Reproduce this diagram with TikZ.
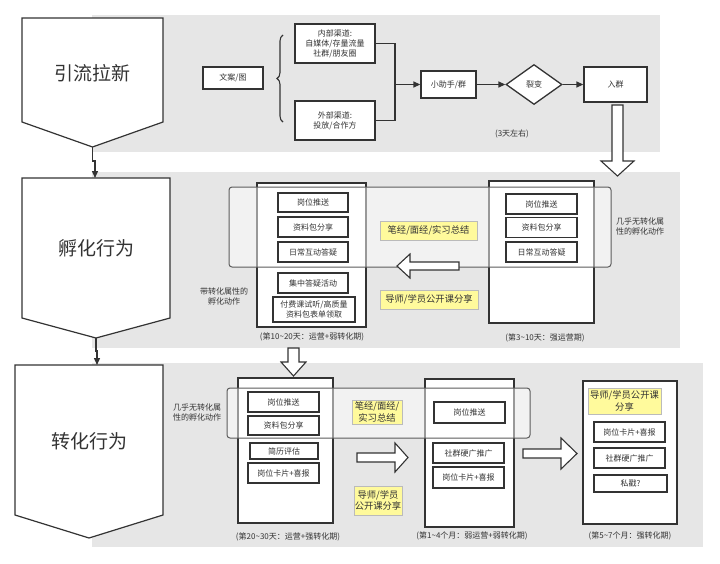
\documentclass[tikz,border=0pt]{standalone}
\usepackage{fontspec}
\newfontfamily\cjk{Noto Sans CJK SC}
\usetikzlibrary{arrows.meta,shapes.geometric,decorations.pathreplacing}
\definecolor{band}{HTML}{E6E6E6}
\definecolor{ink}{HTML}{333333}
\definecolor{note}{HTML}{FFFA9C}
\definecolor{noteline}{HTML}{BBBBBB}
\begin{document}
\begin{tikzpicture}[x=1pt,y=-1pt,
  every node/.style={text=ink},
  sm/.style={font=\cjk\fontsize{8}{10}\selectfont},
  lbl/.style={sm, align=center, inner sep=0pt},
  box/.style={draw=ink, line width=1.3pt, fill=white, inner sep=0pt, align=center, sm},
  yel/.style={draw=noteline, line width=0.8pt, fill=note, inner sep=0pt, align=center, font=\cjk\fontsize{9.3}{11.5}\selectfont},
  col/.style={draw=ink, line width=1.3pt, fill=white},
  over/.style={draw=ink!80, line width=1pt, fill=white, fill opacity=0.5, rounded corners=3pt},
  pent/.style={draw=ink, line width=1.2pt, fill=white, line join=miter},
  big/.style={font=\cjk\fontsize{19}{22}\selectfont, inner sep=0pt},
  arr/.style={draw=ink, line width=1.3pt, -{Triangle[length=7pt,width=6pt]}},
  hollow/.style={draw=ink, line width=1.1pt, fill=white, line join=miter}]
\useasboundingbox (0,0) rectangle (720,563);
\fill[white] (0,0) rectangle (720,563);
% bands
\fill[band] (92,15) rectangle (660,152);
\fill[band] (92,172) rectangle (680,348);
\fill[band] (92,363) rectangle (703,547);

% pentagons
\draw[pent] (22,18) -- (163,18) -- (163,122) -- (92.5,147) -- (22,122) -- cycle;
\coordinate (p1tip) at (92.5,147);
\node[big] (t1) at (92.5,73) {引流拉新};
\draw[pent] (22,178) -- (170,178) -- (170,318) -- (96,338) -- (22,318) -- cycle;
\coordinate (p2top) at (95,178);
\coordinate (p2tip) at (96,338);
\node[big] (t2) at (96,248) {孵化行为};
\draw[pent] (15,365) -- (163,365) -- (163,515) -- (89,538) -- (15,515) -- cycle;
\coordinate (p3top) at (97,365);
\node[big] (t3) at (89,441) {转化行为};
\draw[arr] (p1tip) -- ++(0,14) -| (p2top);
\draw[arr] (p2tip) -- ++(0,13) -| (p3top);

% ---------- band 1
\node[box, minimum width=60, minimum height=22] (wa) at (233,78) {文案/图};
\draw[ink, line width=1.1pt, decorate, decoration={brace, amplitude=6pt}] (283,122) -- (283,35);
\node[box, minimum width=80, minimum height=39] (nb) at (335,43.5) {内部渠道:\\自媒体/存量流量\\社群/朋友圈};
\node[box, minimum width=80, minimum height=39] (wb) at (335,120.5) {外部渠道:\\投放/合作方};
\node[box, minimum width=55, minimum height=27] (xz) at (448.5,84.5) {小助手/群};
\node[draw=ink, line width=1.3pt, fill=white, diamond, minimum width=56, minimum height=40, inner sep=0pt, sm] (lb) at (534,84.5) {裂变};
\node[box, minimum width=63, minimum height=35] (rq) at (615.5,84.5) {入群};
\coordinate (j) at (395,84.5);
\draw[ink, line width=1.3pt] (nb.east) -| (j);
\draw[ink, line width=1.3pt] (wb.east) -| (j);
\draw[arr] (j) -- (xz.west);
\draw[arr] (xz.east) -- (lb.west);
\draw[arr] (lb.east) -- (rq.west);
\node[lbl] (d3) at (512,134) {(3天左右)};
\draw[hollow] (612,105) -- (623,105) -- (623,161) -- (634,161) -- (617.5,176) -- (601,161) -- (612,161) -- cycle;

% ---------- band 2
\draw[col] (257,183) rectangle (366,327);
\draw[col] (489,181) rectangle (594,323);
\draw[over] (229,187) rectangle (611,267);
\node[box, minimum width=70, minimum height=19] (a1) at (313,202.5) {岗位推送};
\node[box, minimum width=70, minimum height=20] (a2) at (313,227) {资料包分享};
\node[box, minimum width=70, minimum height=20] (a3) at (313,252) {日常互动答疑};
\node[box, minimum width=70, minimum height=20] (a4) at (313,283) {集中答疑活动};
\node[box, minimum width=82, minimum height=25] (a5) at (314,309.5) {付费课试听/高质量\\资料包表单领取};
\node[box, minimum width=71, minimum height=20] (b1) at (541.5,204) {岗位推送};
\node[box, minimum width=71, minimum height=20] (b2) at (541.5,227.5) {资料包分享};
\node[box, minimum width=71, minimum height=20] (b3) at (541.5,252) {日常互动答疑};
\node[yel, minimum width=97, minimum height=19] (y1) at (428.5,230.5) {笔经/面经/实习总结};
\node[yel, minimum width=98, minimum height=19] (y2) at (429,299.5) {导师/学员公开课分享};
\draw[hollow] (459,262) -- (410,262) -- (410,254) -- (397,266) -- (410,278) -- (410,270) -- (459,270) -- cycle;
\node[lbl] (n1) at (224,296) {带转化属性的\\孵化动作};
\node[lbl] (n2) at (640,226) {几乎无转化属\\性的孵化动作};
\node[lbl] (n3) at (312,337) {(第10\textasciitilde20天：运营+弱转化期)};
\node[lbl] (n4) at (545,338) {(第3\textasciitilde10天：强运营期)};
\draw[hollow] (288,348) -- (299,348) -- (299,362) -- (306,362) -- (293.5,376) -- (281,362) -- (288,362) -- cycle;

% ---------- band 3
\draw[col] (238,378) rectangle (333,523);
\draw[col] (425,379) rectangle (514,527);
\draw[col] (583,381) rectangle (677,524);
\draw[over] (227,388) rectangle (530,438);
\node[box, minimum width=71, minimum height=20] (c1) at (283.5,402) {岗位推送};
\node[box, minimum width=71, minimum height=19] (c2) at (283.5,425.5) {资料包分享};
\node[box, minimum width=68, minimum height=16] (c3) at (284,451) {简历评估};
\node[box, minimum width=71, minimum height=20] (c4) at (283.5,473) {岗位卡片+喜报};
\node[yel, minimum width=50, minimum height=24] (y3) at (377,412) {笔经/面经/\\实习总结};
\node[yel, minimum width=48, minimum height=29] (y4) at (378,500.5) {导师/学员\\公开课分享};
\draw[hollow] (357,453) -- (395,453) -- (395,443) -- (408,457.5) -- (395,472) -- (395,462) -- (357,462) -- cycle;
\node[box, minimum width=71, minimum height=21] (m1) at (469.5,412.5) {岗位推送};
\node[box, minimum width=71, minimum height=20] (m2) at (468.5,453) {社群硬广推广};
\node[box, minimum width=71, minimum height=21] (m3) at (468.5,477.5) {岗位卡片+喜报};
\draw[hollow] (523,449) -- (561,449) -- (561,438) -- (577,453.5) -- (561,469) -- (561,458) -- (523,458) -- cycle;
\node[yel, minimum width=73, minimum height=26] (y5) at (624.5,401) {导师/学员公开课\\分享};
\node[box, minimum width=71, minimum height=20] (r1) at (629.5,432) {岗位卡片+喜报};
\node[box, minimum width=71, minimum height=20] (r2) at (629.5,458) {社群硬广推广};
\node[box, minimum width=73, minimum height=17] (r3) at (630.5,483.5) {私戳?};
\node[lbl] (n5) at (197,412) {几乎无转化属\\性的孵化动作};
\node[lbl] (n6) at (288,537) {(第20\textasciitilde30天：运营+强转化期)};
\node[lbl] (n7) at (472,536) {(第1\textasciitilde4个月：弱运营+弱转化期)};
\node[lbl] (n8) at (630,536) {(第5\textasciitilde7个月：强转化期)};
\end{tikzpicture}
\end{document}
